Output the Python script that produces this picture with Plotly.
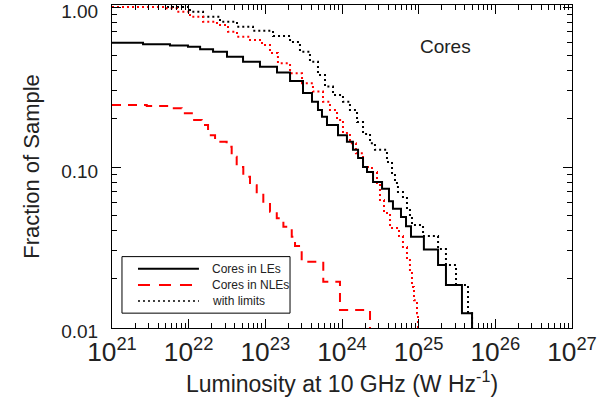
import plotly.graph_objects as go

# ---- data ----
# Cores in LEs (detections) : luminosity where the step occurs, fraction after the step
lum_le = [1e21, 2.54e21, 5.71e21, 9.79e21, 1.41e22, 2.08e22, 3.16e22, 5.12e22, 8.51e22,
          1.42e23, 2.10e23, 3.10e23, 4.06e23, 4.86e23, 5.48e23, 6.37e23, 8.87e23,
          1.16e24, 1.39e24, 1.62e24, 1.88e24, 2.12e24, 2.54e24, 3.33e24, 4.10e24,
          4.62e24, 5.88e24, 6.84e24, 7.94e24, 1.17e25, 1.79e25, 2.27e25, 3.67e25, 4.97e25]
frac_le = [0.598, 0.585, 0.574, 0.565, 0.544, 0.526, 0.489, 0.455, 0.424,
           0.390, 0.345, 0.290, 0.256, 0.227, 0.206, 0.183, 0.158,
           0.144, 0.128, 0.114, 0.100, 0.0930, 0.0805, 0.0732, 0.0610,
           0.0549, 0.0488, 0.0427, 0.0366, 0.0305, 0.0244, 0.0183, 0.0122, 0.0061]

# Cores in NLEs (detections)
lum_nle = [1e21, 2.84e21, 6.01e21, 8.11e21, 1.10e22, 1.48e22, 1.79e22, 2.21e22, 3.13e22,
           3.64e22, 4.23e22, 5.16e22, 6.31e22, 7.72e22, 9.41e22, 1.15e23, 1.41e23,
           1.72e23, 2.21e23, 2.44e23, 2.98e23, 5.70e23, 9.41e23, 2.32e24]
frac_nle = [0.244, 0.241, 0.233, 0.217, 0.197, 0.183, 0.158, 0.144, 0.134,
            0.116, 0.100, 0.087, 0.077, 0.0685, 0.0607, 0.0526, 0.0478,
            0.0423, 0.0367, 0.0321, 0.0256, 0.0192, 0.0128, 0.0061]

# LEs with limits (black dotted)
lum_le_lim = [1e21, 1.04e22, 1.54e22, 2.56e22, 4.27e22, 6.90e22, 1.26e23, 2.10e23, 2.83e23,
              3.82e23, 4.86e23, 6.00e23, 7.63e23, 1.03e24, 1.27e24, 1.57e24, 1.88e24,
              2.32e24, 2.69e24, 3.86e24, 4.49e24, 4.91e24, 5.37e24, 6.24e24, 7.04e24,
              7.70e24, 8.18e24, 1.14e25, 1.79e25, 2.27e25, 3.07e25, 4.40e25, 4.97e25]
frac_le_lim = [1.0, 0.935, 0.870, 0.809, 0.753, 0.711, 0.659, 0.604, 0.526,
               0.455, 0.376, 0.318, 0.282, 0.256, 0.227, 0.191, 0.161,
               0.141, 0.128, 0.1075, 0.0917, 0.0794, 0.0698, 0.0640, 0.0539,
               0.0480, 0.0434, 0.0370, 0.0307, 0.0244, 0.0183, 0.0122, 0.0061]

# NLEs with limits (red dotted)
lum_nle_lim = [1e21, 4.63e21, 7.04e21, 1.04e22, 1.54e22, 2.34e22, 3.26e22, 4.27e22, 6.31e22,
               9.05e22, 1.15e23, 1.46e23, 2.10e23, 3.01e23, 4.18e23, 5.65e23, 6.97e23,
               8.61e23, 1.03e24, 1.27e24, 1.52e24, 1.88e24, 2.46e24, 2.86e24, 3.13e24,
               3.53e24, 4.23e24, 5.54e24, 6.24e24, 7.04e24, 7.70e24, 8.18e24, 8.69e24,
               9.51e24, 9.80e24]
frac_nle_lim = [1.0, 0.981, 0.935, 0.870, 0.809, 0.772, 0.701, 0.652, 0.622,
                0.579, 0.516, 0.445, 0.385, 0.334, 0.296, 0.256, 0.227,
                0.197, 0.163, 0.141, 0.122, 0.100, 0.0930, 0.0794, 0.0622,
                0.0516, 0.0416, 0.0370, 0.0316, 0.0270, 0.0221, 0.0178, 0.0147,
                0.0122, 0.0061]

legend_names = ["Cores in LEs", "Cores in NLEs", "with limits"]

FONT = "Liberation Sans, Arial, Helvetica, sans-serif"
TXT = "#222222"

fig = go.Figure()
fig.add_trace(go.Scatter(x=lum_le_lim, y=frac_le_lim, mode="lines", line_shape="hv",
                         line=dict(color="black", width=2, dash="2px,3px"),
                         name=legend_names[2], showlegend=False))
fig.add_trace(go.Scatter(x=lum_nle_lim, y=frac_nle_lim, mode="lines", line_shape="hv",
                         line=dict(color="#ff0000", width=2, dash="2px,3px"),
                         name="NLEs with limits", showlegend=False))
fig.add_trace(go.Scatter(x=lum_le, y=frac_le, mode="lines", line_shape="hv",
                         line=dict(color="black", width=2),
                         name=legend_names[0], showlegend=False))
fig.add_trace(go.Scatter(x=lum_nle, y=frac_nle, mode="lines", line_shape="hv",
                         line=dict(color="#ff0000", width=2, dash="9px,7px"),
                         name=legend_names[1], showlegend=False))

# legend box drawn in IDL style
lx0, lx1, ly0, ly1 = 0.0217, 0.387, 0.046, 0.221
fig.add_shape(type="rect", xref="paper", yref="paper", x0=lx0, x1=lx1, y0=ly0, y1=ly1,
              line=dict(color="black", width=1), fillcolor="white", layer="above")
rows = [0.1836, 0.1331, 0.0836]
styles = [dict(color="black", width=2), dict(color="#ff0000", width=2, dash="12px,9px"),
          dict(color="black", width=1.5, dash="2px,3px")]
for r, st, nm in zip(rows, styles, legend_names):
    fig.add_shape(type="line", xref="paper", yref="paper", x0=0.0565, x1=0.189, y0=r, y1=r,
                  line=st, layer="above")
    fig.add_annotation(xref="paper", yref="paper", x=0.213, y=r, text=nm, showarrow=False,
                       xanchor="left", yanchor="middle", font=dict(size=12, color=TXT, family=FONT))

fig.add_annotation(xref="paper", yref="paper", x=0.724, y=0.87, text="Cores", showarrow=False,
                   xanchor="center", yanchor="middle", font=dict(size=19, color=TXT, family=FONT))

fig.update_layout(
    width=609, height=414,
    margin=dict(l=112, r=37, t=5, b=86, autoexpand=False),
    paper_bgcolor="white", plot_bgcolor="white",
    font=dict(family=FONT, color=TXT),
    showlegend=False,
)
fig.update_xaxes(type="log", range=[21, 27], showgrid=False, zeroline=False, automargin=False,
                 showline=True, linecolor="black", linewidth=1, mirror="allticks",
                 ticks="inside", ticklen=9, tickcolor="black", tickwidth=1,
                 tickmode="linear", tick0=0, dtick=1, exponentformat="power",
                 ticklabeloverflow="allow", ticklabelstandoff=2,
                 tickfont=dict(size=21, family=FONT, color=TXT),
                 minor=dict(ticks="inside", ticklen=5, tickcolor="black", tickwidth=1,
                            dtick="D1", showgrid=False),
                 title=dict(text="Luminosity at 10 GHz (W Hz<sup>-1</sup>)",
                            font=dict(size=23, family=FONT, color=TXT), standoff=6))
fig.update_yaxes(type="log", range=[-2.006, 0.0125], showgrid=False, zeroline=False, automargin=False,
                 showline=True, linecolor="black", linewidth=1, mirror="allticks",
                 ticks="inside", ticklen=9, tickcolor="black", tickwidth=1,
                 tickmode="linear", tick0=0, dtick=1, tickformat=".2f",
                 ticklabeloverflow="allow", ticklabelshift=4,
                 tickfont=dict(size=19, family=FONT, color=TXT), ticklabelstandoff=9,
                 minor=dict(ticks="inside", ticklen=5, tickcolor="black", tickwidth=1,
                            dtick="D1", showgrid=False),
                 title=dict(text="Fraction of Sample",
                            font=dict(size=22, family=FONT, color=TXT), standoff=15))

fig.write_html("out.html", config={"displayModeBar": False},
               post_script="document.body.style.margin='0px';")
